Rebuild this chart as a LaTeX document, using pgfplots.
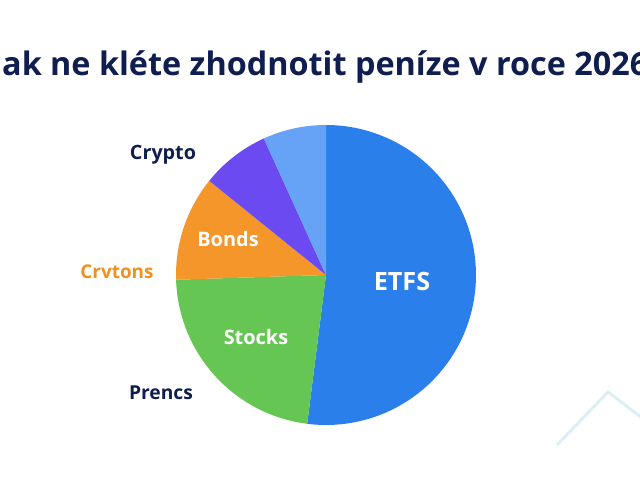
\documentclass[border=0pt]{standalone}
\usepackage{pgfplots}
\usepackage{pgfplotstable}
\pgfplotsset{compat=1.18}
\usepackage{fontspec}
\setmainfont{Open Sans}
\definecolor{cetfs}{RGB}{43,127,234}
\definecolor{clight}{RGB}{102,163,247}
\definecolor{cpurple}{RGB}{108,74,242}
\definecolor{corange}{RGB}{245,150,43}
\definecolor{cgreen}{RGB}{102,198,84}
\definecolor{navy}{RGB}{15,30,78}
\definecolor{lorange}{RGB}{240,144,30}
\definecolor{chev}{RGB}{220,240,243}

\pgfplotstableread{
label share
ETFS 52.0
Stocks 22.5
Bonds 11.3
Crypto 7.4
Other 6.8
}\pietable

\pgfplotstablegetelem{0}{share}\of\pietable \let\sA\pgfplotsretval
\pgfplotstablegetelem{1}{share}\of\pietable \let\sB\pgfplotsretval
\pgfplotstablegetelem{2}{share}\of\pietable \let\sC\pgfplotsretval
\pgfplotstablegetelem{3}{share}\of\pietable \let\sD\pgfplotsretval
\pgfplotstablegetelem{4}{share}\of\pietable \let\sE\pgfplotsretval
\pgfmathsetmacro{\aA}{90}
\pgfmathsetmacro{\aB}{\aA-3.6*\sA}
\pgfmathsetmacro{\aC}{\aB-3.6*\sB}
\pgfmathsetmacro{\aD}{\aC-3.6*\sC}
\pgfmathsetmacro{\aE}{\aD-3.6*\sD}
\pgfmathsetmacro{\aF}{\aE-3.6*\sE}
\def\cx{326}\def\cy{205}\def\rr{150}

\begin{document}
\begin{tikzpicture}
\useasboundingbox (0,0) rectangle (640bp,480bp);
\clip (0,0) rectangle (640bp,480bp);
\fill[white] (0,0) rectangle (640bp,480bp);
\begin{axis}[at={(0,0)}, anchor=south west, hide axis, scale only axis,
  width=640bp, height=480bp, xmin=0, xmax=640, ymin=0, ymax=480, clip=false]
\addplot[chev, line width=3bp] coordinates {(557,35) (608,88) (645,60)};
\addplot[fill=cetfs, draw=none, domain=\aB:\aA, samples=120, variable=\t]
  ({\cx+\rr*cos(t)},{\cy+\rr*sin(t)}) -- (axis cs:\cx,\cy) -- cycle;
\addplot[fill=cgreen, draw=none, domain=\aC:\aB, samples=60, variable=\t]
  ({\cx+\rr*cos(t)},{\cy+\rr*sin(t)}) -- (axis cs:\cx,\cy) -- cycle;
\addplot[fill=corange, draw=none, domain=\aD:\aC, samples=40, variable=\t]
  ({\cx+\rr*cos(t)},{\cy+\rr*sin(t)}) -- (axis cs:\cx,\cy) -- cycle;
\addplot[fill=cpurple, draw=none, domain=\aE:\aD, samples=30, variable=\t]
  ({\cx+\rr*cos(t)},{\cy+\rr*sin(t)}) -- (axis cs:\cx,\cy) -- cycle;
\addplot[fill=clight, draw=none, domain=\aF:\aE, samples=30, variable=\t]
  ({\cx+\rr*cos(t)},{\cy+\rr*sin(t)}) -- (axis cs:\cx,\cy) -- cycle;

\node[anchor=base west, text=navy, font=\fontsize{32.5}{38}\selectfont\bfseries, inner sep=0pt]
  at (axis cs:2,404) {\llap{J}ak ne kléte zhodnotit peníze v roce 2026};
\node[text=white, font=\fontsize{25.3}{29}\selectfont\bfseries] at (axis cs:402,199) {ETFS};
\node[text=white, font=\fontsize{20}{24}\selectfont\bfseries] at (axis cs:256,143) {Stocks};
\node[text=white, font=\fontsize{20}{24}\selectfont\bfseries] at (axis cs:228,241) {Bonds};
\node[text=navy, font=\fontsize{19.8}{22}\selectfont\bfseries] at (axis cs:163,325) {Crypto};
\node[text=lorange, font=\fontsize{19}{22}\selectfont\bfseries] at (axis cs:117,208) {Crvtons};
\node[text=navy, font=\fontsize{19.3}{22}\selectfont\bfseries] at (axis cs:161,87) {Prencs};
\end{axis}
\end{tikzpicture}
\end{document}
